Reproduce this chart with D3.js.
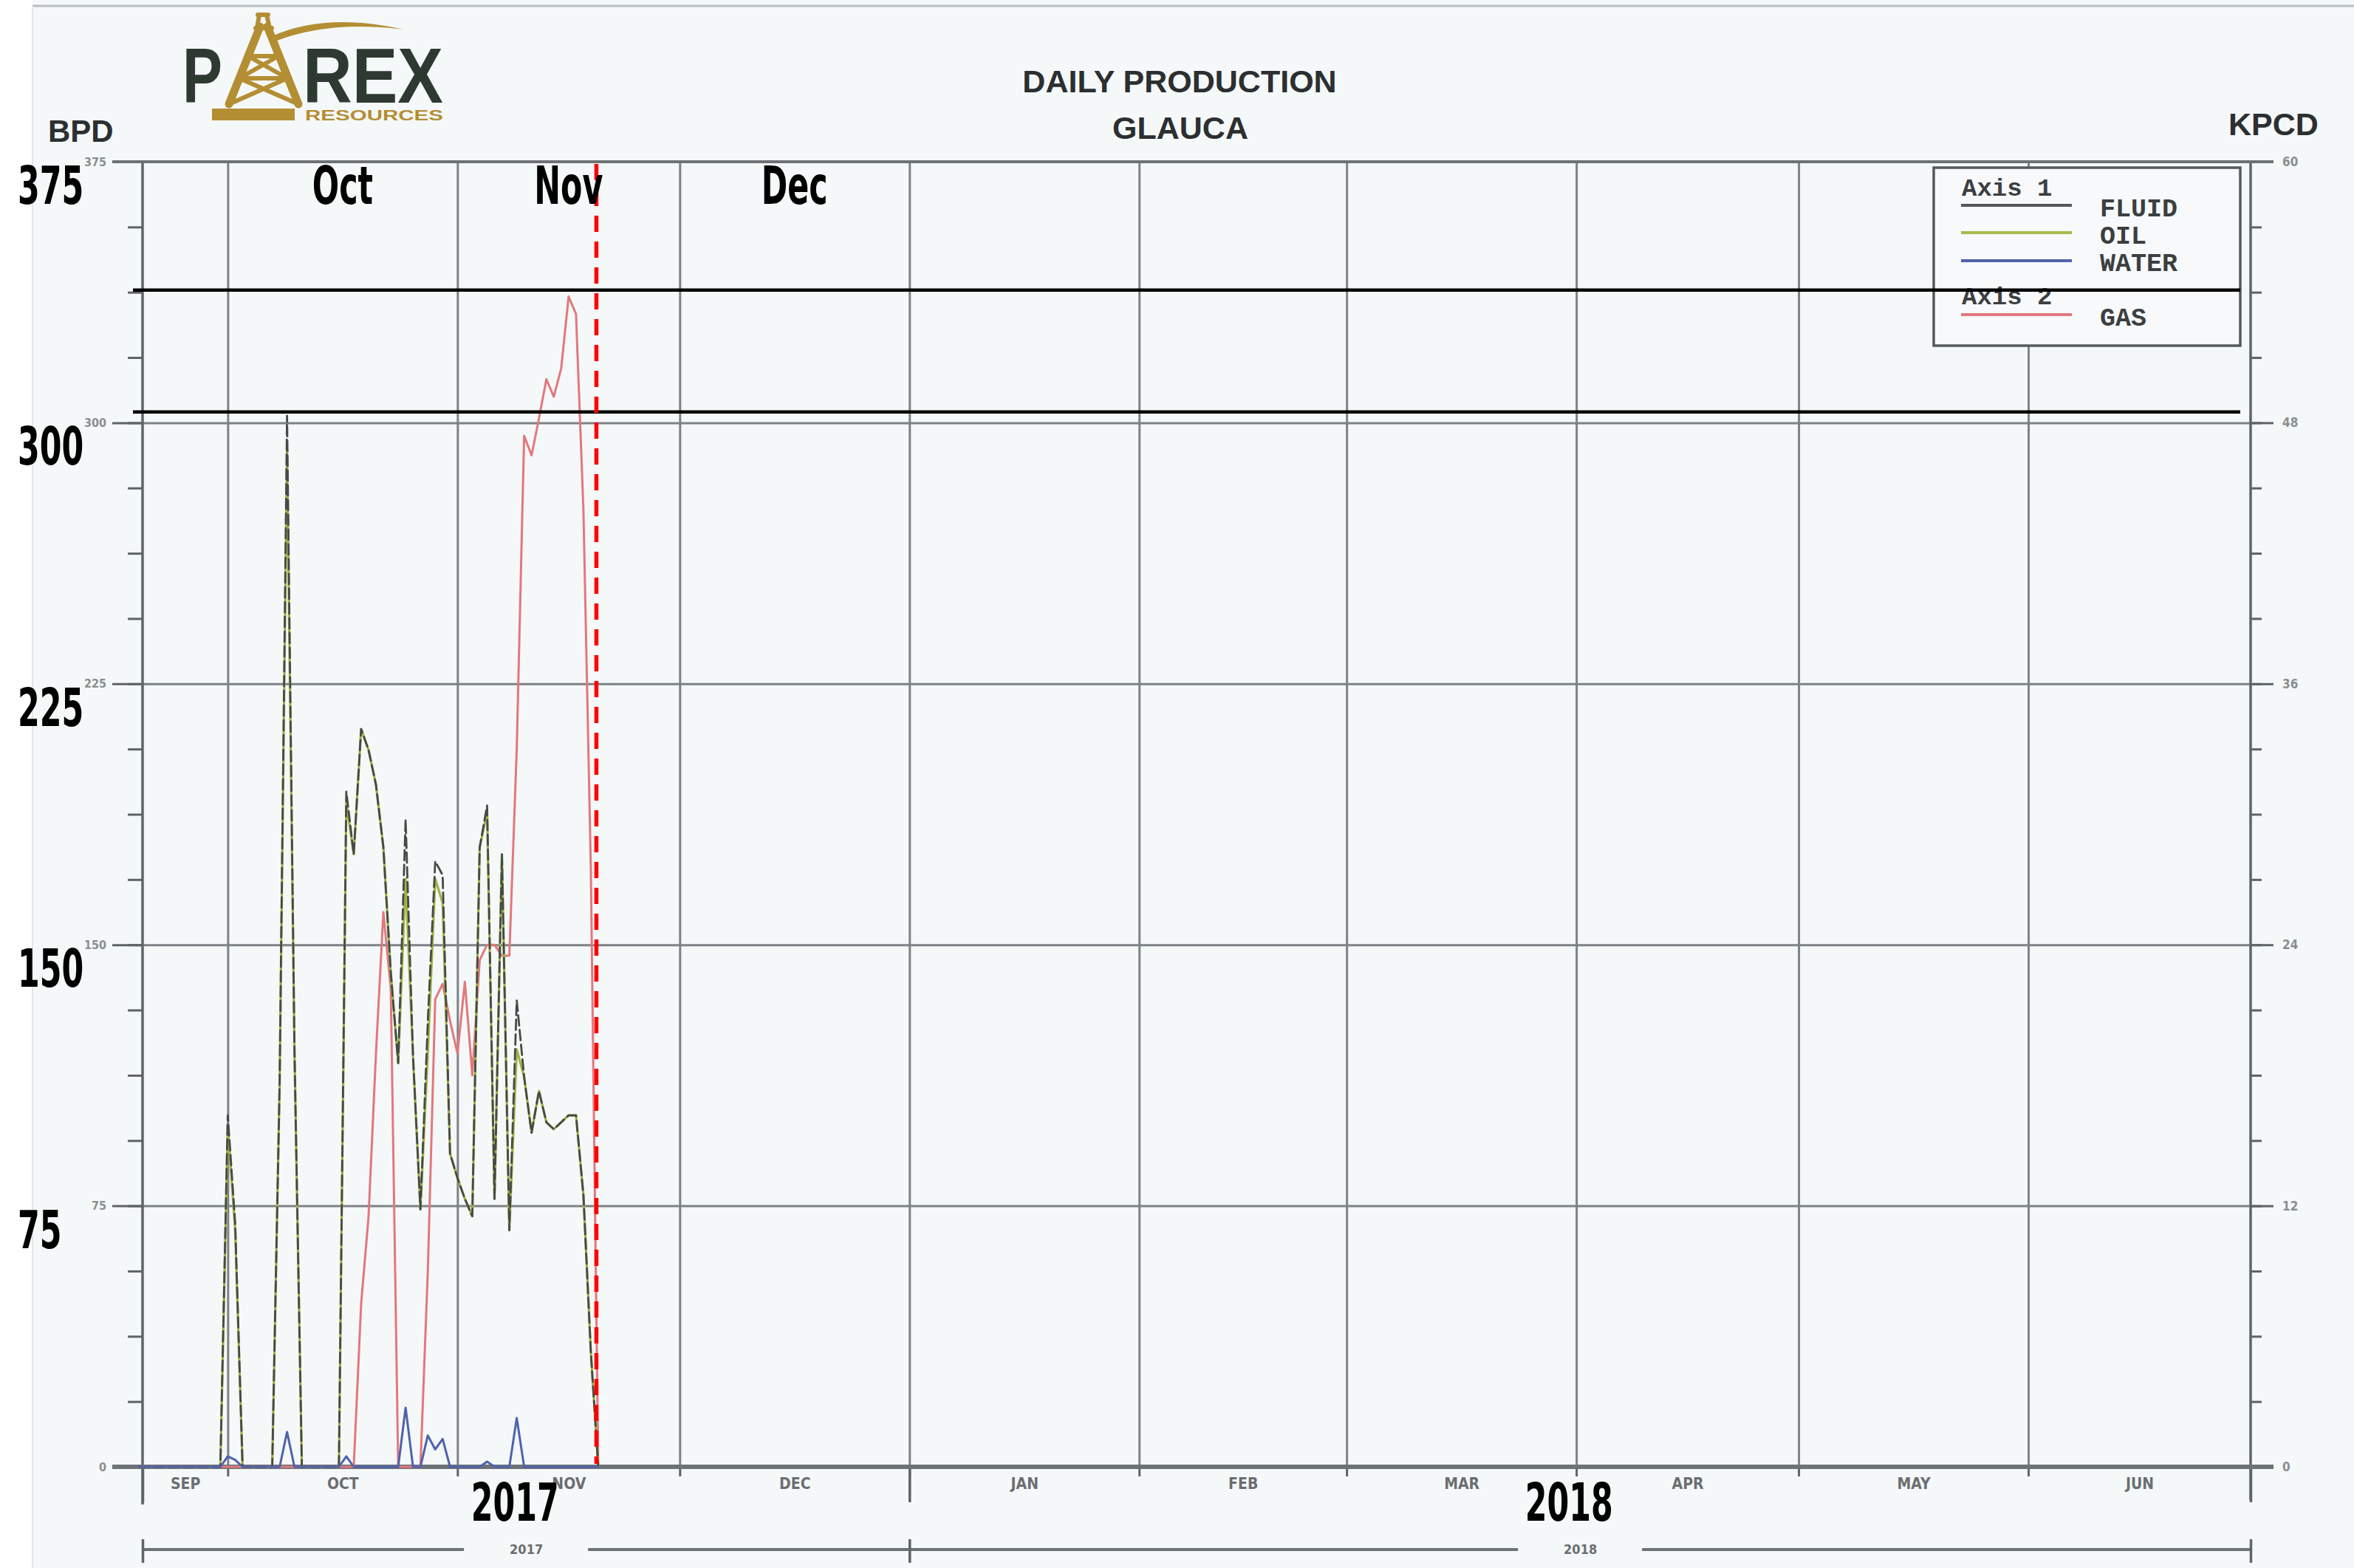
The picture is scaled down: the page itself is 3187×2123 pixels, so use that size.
<!DOCTYPE html>
<html><head><meta charset="utf-8">
<script src="https://cdn.jsdelivr.net/npm/d3@7/dist/d3.min.js"></script>
<style>
html,body{margin:0;padding:0;background:#f5f8f9;}
svg{display:block;}
</style></head><body>
<svg id="chart" width="3187" height="2123"></svg>
<script>
// ---------------- DATA ----------------
const days = ["2017-09-19","2017-09-30","2017-10-01","2017-10-02","2017-10-03",
  "2017-10-07","2017-10-08","2017-10-09","2017-10-10","2017-10-11",
  "2017-10-16","2017-10-17","2017-10-18","2017-10-19","2017-10-20","2017-10-21","2017-10-22","2017-10-23",
  "2017-10-24","2017-10-25","2017-10-26","2017-10-27","2017-10-28","2017-10-29","2017-10-30","2017-10-31",
  "2017-11-01","2017-11-02","2017-11-03","2017-11-04","2017-11-05","2017-11-06","2017-11-07","2017-11-08",
  "2017-11-09","2017-11-10","2017-11-11","2017-11-12","2017-11-13","2017-11-14","2017-11-15","2017-11-16",
  "2017-11-17","2017-11-18","2017-11-19","2017-11-20"];
const fluid = [0,0,101,70,0, 0,110,302,120,0,
  0,194,176,212,206,196,178,142,
  116,186,118,74,128,174,170,90,
  83,77,72,178,190,77,176,68,
  134,112,96,108,99,97,99,101,
  101,78,33,0];
const oil = [0,0,98,68,0, 0,110,292,120,0,
  0,191,176,212,206,196,178,142,
  116,169,118,74,119,169,162,90,
  83,77,72,178,188,77,176,68,
  120,112,96,108,99,97,99,101,
  101,78,33,0];
const water = [0,0,3,2,0, 0,0,10,0,0,
  0,3,0,0,0,0,0,0,
  0,17,0,0,9,5,8,0,
  0,0,0,0,1.5,0,0,0,
  14,0,0,0,0,0,0,0,
  0,0,0,0];
const gas = [0,0,0,0,0, 0,0,0,0,0,
  0,0,0,7.5,11.5,19,25.5,22,
  0,0,0,0,9,21.5,22.2,20.5,
  19,22.3,18,23.3,24,24,23.5,23.5,
  33,47.4,46.5,48.2,50,49.2,50.5,53.8,
  53,44,27.5,0];

const xDomain = ["2017-09-19 12:00","2018-07-01 00:00"];
const leftTicks = [0,75,150,225,300,375];
const rightTicks = [0,12,24,36,48,60];
const monthStarts = ["2017-10-01","2017-11-01","2017-12-01","2018-01-01","2018-02-01","2018-03-01","2018-04-01","2018-05-01","2018-06-01"];
const monthNames = ["SEP","OCT","NOV","DEC","JAN","FEB","MAR","APR","MAY","JUN"];
const monthFirst = ["2017-09-01","2017-10-01","2017-11-01","2017-12-01","2018-01-01","2018-02-01","2018-03-01","2018-04-01","2018-05-01","2018-06-01","2018-07-01"];
const yearNames = ["2017","2018"];
const yearBounds = ["2017-01-01","2018-01-01","2019-01-01"];

const bigValueLabels = ["375","300","225","150","75"];
const bigMonthLabels = ["Oct","Nov","Dec"];
const bigMonthIndex = [1,2,3];
const markerDate = "2017-11-19 18:00";
const refGasLevels = [54.1, 48.5];

const legendItems = ["FLUID","OIL","WATER","GAS"];

// ---------------- SETUP ----------------
const W=3187,H=2123;
const svg=d3.select("#chart");
const parse=d3.timeParse("%Y-%m-%d");
const parseT=d3.timeParse("%Y-%m-%d %H:%M");
const L=193,R=3047,T=219,B=1986;
const x=d3.scaleTime().domain(xDomain.map(parseT)).range([L,R]);
const yL=d3.scaleLinear().domain([0,375]).range([B,T]);
const yR=d3.scaleLinear().domain([0,60]).range([B,T]);
const dates=days.map(parse);
const d0=x.domain()[0], d1=x.domain()[1];

const gridGrey="#7d8287", axisGrey="#5e6468";
const narrow="'Liberation Sans Narrow','Arial Narrow','DejaVu Sans Condensed',sans-serif";
const sans="'Liberation Sans',Arial,Helvetica,sans-serif";
const mono="'Liberation Mono','Courier New',monospace";

// background
svg.append("rect").attr("width",W).attr("height",H).attr("fill","#f5f8f9");
svg.append("rect").attr("x",0).attr("y",0).attr("width",44).attr("height",H).attr("fill","#ffffff");
svg.append("line").attr("x1",44).attr("x2",W).attr("y1",8).attr("y2",8).attr("stroke","#b9bec2").attr("stroke-width",3);
svg.append("line").attr("x1",44).attr("x2",44).attr("y1",8).attr("y2",H).attr("stroke","#e2e6e8").attr("stroke-width",2);

function clean(g){ g.select(".domain").remove(); }

// vertical gridlines
svg.append("g").attr("transform",`translate(0,${B})`)
  .call(d3.axisBottom(x).tickValues(monthStarts.map(parse)).tickSize(-(B-T)).tickFormat(""))
  .call(clean)
  .call(g=>g.selectAll("line").attr("stroke",gridGrey).attr("stroke-width",3));
// month ticks below axis
svg.append("g").attr("transform",`translate(0,${B})`)
  .call(d3.axisBottom(x).tickValues(monthStarts.map(parse)).tickSize(13).tickFormat(""))
  .call(clean)
  .call(g=>g.selectAll("line").attr("stroke",axisGrey).attr("stroke-width",3));
// year boundary ticks
svg.append("g").attr("transform",`translate(0,${B})`)
  .call(d3.axisBottom(x).tickValues([d0,parse(yearBounds[1]),d1]).tickSize(48).tickFormat(""))
  .call(clean)
  .call(g=>g.selectAll("line").attr("stroke",axisGrey).attr("stroke-width",3.5));

// horizontal gridlines
svg.append("g").attr("transform",`translate(${L},0)`)
  .call(d3.axisLeft(yL).tickValues(leftTicks).tickSize(-(R-L)).tickFormat(""))
  .call(clean)
  .call(g=>g.selectAll("line").attr("stroke",gridGrey).attr("stroke-width",3));

// left axis
svg.append("g").attr("transform",`translate(${L},0)`)
  .call(d3.axisLeft(yL).tickValues(d3.range(0,375.01,18.75)).tickSize(20).tickFormat(""))
  .call(clean)
  .call(g=>g.selectAll("line").attr("stroke",axisGrey).attr("stroke-width",3));
svg.append("g").attr("transform",`translate(${L},0)`)
  .call(d3.axisLeft(yL).tickValues(leftTicks).tickSize(41).tickPadding(8).tickFormat(d3.format("d")))
  .call(clean)
  .call(g=>g.selectAll("line").attr("stroke",axisGrey).attr("stroke-width",3))
  .call(g=>g.selectAll("text").attr("font-family",narrow).attr("font-size",16).attr("font-weight","bold").attr("fill","#8a8e91"));
svg.append("line").attr("x1",L).attr("x2",L).attr("y1",T).attr("y2",B+51).attr("stroke",axisGrey).attr("stroke-width",3.5);

// right axis
svg.append("g").attr("transform",`translate(${R},0)`)
  .call(d3.axisRight(yR).tickValues(d3.range(0,60.01,3)).tickSize(15).tickFormat(""))
  .call(clean)
  .call(g=>g.selectAll("line").attr("stroke",axisGrey).attr("stroke-width",3));
svg.append("g").attr("transform",`translate(${R},0)`)
  .call(d3.axisRight(yR).tickValues(rightTicks).tickSize(31).tickPadding(12).tickFormat(d3.format("d")))
  .call(clean)
  .call(g=>g.selectAll("line").attr("stroke",axisGrey).attr("stroke-width",3))
  .call(g=>g.selectAll("text").attr("font-family",narrow).attr("font-size",17).attr("font-weight","bold").attr("fill","#8a8e91"));
svg.append("line").attr("x1",R).attr("x2",R).attr("y1",T).attr("y2",B+45).attr("stroke",axisGrey).attr("stroke-width",3.5);

// bottom thick axis + top frame
svg.append("line").attr("x1",L-41).attr("x2",R+31).attr("y1",B).attr("y2",B).attr("stroke","#6d7276").attr("stroke-width",6);
svg.append("line").attr("x1",L-41).attr("x2",R+31).attr("y1",T).attr("y2",T).attr("stroke","#6d7276").attr("stroke-width",4);

// month labels (centered in each visible month)
const monthCenters = monthNames.map((m,i)=>{
  const a=Math.max(x(parse(monthFirst[i])),L), b=Math.min(x(parse(monthFirst[i+1])),R);
  return x.invert((a+b)/2);
});
svg.append("g").attr("transform",`translate(0,${B})`)
  .call(d3.axisBottom(x).tickValues(monthCenters).tickSize(0).tickPadding(15).tickFormat((d,i)=>monthNames[i]))
  .call(clean)
  .call(g=>g.selectAll("text").attr("font-family",narrow).attr("font-size",21).attr("font-weight","bold").attr("fill","#6a6e71"));

// year row
const yearY=2098;
const yearSpans = yearNames.map((n,i)=>{
  const a=Math.max(x(parse(yearBounds[i])),L), b=Math.min(x(parse(yearBounds[i+1])),R);
  return {n,a,b,c:(a+b)/2};
});
yearSpans.forEach(s=>{
  svg.append("line").attr("x1",s.a).attr("x2",s.c-84).attr("y1",yearY).attr("y2",yearY).attr("stroke","#6d7276").attr("stroke-width",4);
  svg.append("line").attr("x1",s.c+84).attr("x2",s.b).attr("y1",yearY).attr("y2",yearY).attr("stroke","#6d7276").attr("stroke-width",4);
});
svg.append("g").attr("transform",`translate(0,${yearY-14})`)
  .call(d3.axisBottom(x).tickValues([d0,parse(yearBounds[1]),d1]).tickSize(32).tickFormat(""))
  .call(clean)
  .call(g=>g.selectAll("line").attr("stroke",axisGrey).attr("stroke-width",3.5));
svg.append("g").attr("transform",`translate(0,${yearY})`)
  .call(d3.axisBottom(x).tickValues(yearSpans.map(s=>x.invert(s.c))).tickSize(0).tickPadding(0).tickFormat((d,i)=>yearNames[i]))
  .call(clean)
  .call(g=>g.selectAll("text").attr("dy","0.35em").attr("font-family",narrow).attr("font-size",18).attr("font-weight","bold").attr("fill","#6a6e71"));

// ---------------- DATA LINES ----------------
const mk = (ys)=>d3.line().x((d,i)=>x(dates[i])).y(d=>ys(d));
const plot = svg.append("g").attr("fill","none").attr("stroke-linejoin","round").attr("stroke-linecap","round");
plot.append("path").attr("d",mk(yR)(gas)).attr("stroke","#e2787c").attr("stroke-width",3);
plot.append("path").attr("d",mk(yL)(oil)).attr("stroke","#a3b243").attr("stroke-width",3.2);
plot.append("path").attr("d",mk(yL)(fluid)).attr("stroke","#444b47").attr("stroke-width",2.8).attr("stroke-dasharray","14,6");
plot.append("path").attr("d",mk(yL)(water)).attr("stroke","#4f62ad").attr("stroke-width",3);

// ---------------- LEGEND ----------------
const lg={x:2618,y:227,w:415,h:241};
svg.append("rect").attr("x",lg.x).attr("y",lg.y).attr("width",lg.w).attr("height",lg.h).attr("fill","#f7f9fa").attr("stroke","#555a5e").attr("stroke-width",3.5);
const legendColors=["#52585c","#a9b94c","#4f64aa","#e2787e"];
const legendLineY=[278,315,353,426];
const legendTextY=[293,330,367,441];
const lgt = svg.append("g").attr("font-family",mono).attr("font-weight","bold").attr("fill","#3b3f42");
lgt.append("text").attr("x",2656).attr("y",265).attr("font-size",34).text("Axis 1");
lgt.append("text").attr("x",2656).attr("y",412).attr("font-size",34).text("Axis 2");
legendItems.forEach((n,i)=>{
  svg.append("line").attr("x1",2655).attr("x2",2805).attr("y1",legendLineY[i]).attr("y2",legendLineY[i]).attr("stroke",legendColors[i]).attr("stroke-width",4);
  lgt.append("text").attr("x",2843).attr("y",legendTextY[i]).attr("font-size",35).text(n);
});

// ---------------- ANNOTATIONS ----------------
refGasLevels.forEach(v=>{
  svg.append("line").attr("x1",L-13).attr("x2",lg.x+lg.w).attr("y1",yR(v)).attr("y2",yR(v)).attr("stroke","#000").attr("stroke-width",4.5);
});
svg.append("line").attr("x1",x(parseT(markerDate))).attr("x2",x(parseT(markerDate)))
  .attr("y1",T+3).attr("y2",B-4).attr("stroke","#ff0000").attr("stroke-width",5.5).attr("stroke-dasharray","22,13");

function big(txt,px,py,anchor){
  svg.append("text").attr("transform",`translate(${px},${py}) scale(0.66,1)`)
    .attr("text-anchor",anchor).attr("font-family",narrow).attr("font-weight","bold")
    .attr("font-size",72).attr("fill","#000").text(txt);
}
bigValueLabels.forEach(v=>big(v,24,yL(+v)+57,"start"));
bigMonthLabels.forEach((m,i)=>big(m,x(monthCenters[bigMonthIndex[i]]),T+57,"middle"));
yearSpans.forEach(s=>big(s.n,s.c-15,2059,"middle"));

// ---------------- TITLES ----------------
svg.append("text").attr("x",1597).attr("y",125).attr("text-anchor","middle").attr("font-family",sans).attr("font-weight","bold").attr("font-size",43).attr("fill","#2c2f31").text("DAILY PRODUCTION");
svg.append("text").attr("x",1598).attr("y",188).attr("text-anchor","middle").attr("font-family",sans).attr("font-weight","bold").attr("font-size",43).attr("fill","#2c2f31").text("GLAUCA");
svg.append("text").attr("x",65).attr("y",192).attr("font-family",sans).attr("font-weight","bold").attr("font-size",42).attr("fill","#2c2f31").text("BPD");
svg.append("text").attr("x",3017).attr("y",183).attr("font-family",sans).attr("font-weight","bold").attr("font-size",43).attr("fill","#2c2f31").text("KPCD");

// ---------------- LOGO ----------------
const gold="#b38e33", dark="#2e3a31";
const logo=svg.append("g");
logo.append("text").attr("x",247).attr("y",139).attr("font-family",sans).attr("font-weight","bold").attr("font-size",106).attr("fill",dark).attr("textLength",54).attr("lengthAdjust","spacingAndGlyphs").text("P");
logo.append("text").attr("x",410).attr("y",139).attr("font-family",sans).attr("font-weight","bold").attr("font-size",106).attr("fill",dark).attr("textLength",190).attr("lengthAdjust","spacingAndGlyphs").text("REX");
const der=logo.append("g").attr("stroke",gold).attr("stroke-linecap","round").attr("fill","none");
der.append("path").attr("d","M352,36 L310,141").attr("stroke-width",11);
der.append("path").attr("d","M362,36 L404,141").attr("stroke-width",11);
der.append("path").attr("d","M336,76 L377,76 M324,106 L389,106 M336,76 L389,106 M377,76 L324,106 M324,106 L404,141 M389,106 L310,141").attr("stroke-width",6);
der.append("path").attr("d","M346,38 L368,38 M349,20 L363,20 M351,20 L348,38 M361,20 L365,38").attr("stroke-width",6);
logo.append("path").attr("d","M366,50 Q440,16 547,40 Q444,27 370,57 Z").attr("fill",gold);
logo.append("rect").attr("x",287).attr("y",147).attr("width",112).attr("height",16).attr("fill",gold);
logo.append("text").attr("x",413).attr("y",163).attr("font-family",sans).attr("font-weight","bold").attr("font-size",20).attr("fill",gold).attr("textLength",187).attr("lengthAdjust","spacingAndGlyphs").text("RESOURCES");
</script>
</body></html>
